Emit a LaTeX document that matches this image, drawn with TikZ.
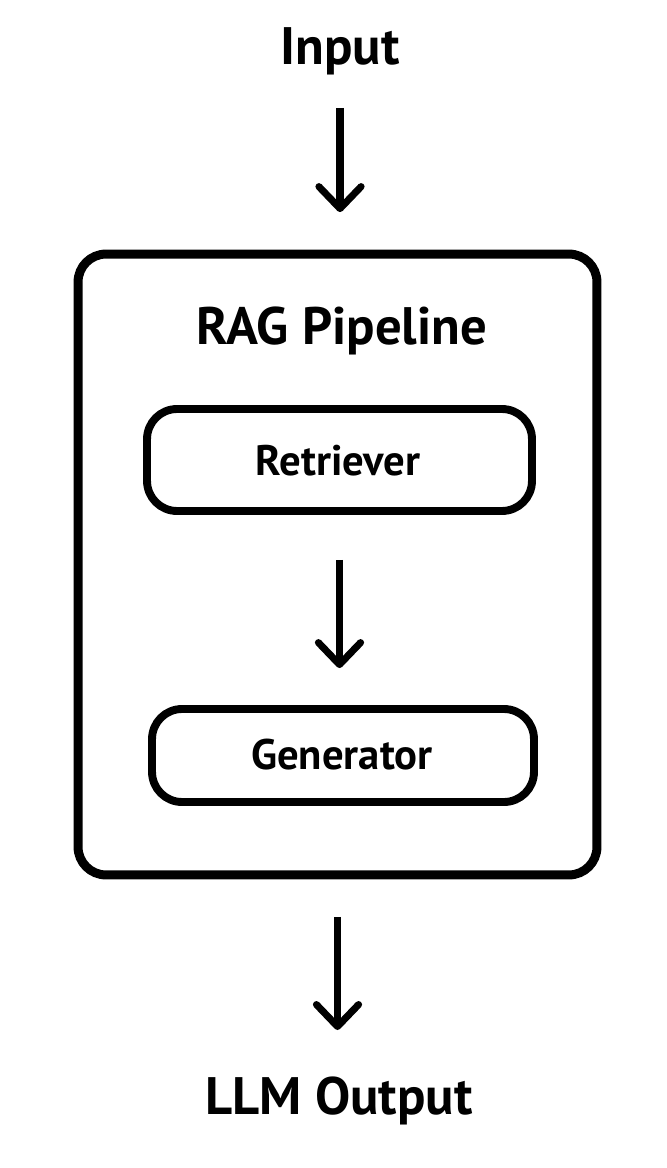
\documentclass[tikz,border=0pt]{standalone}
\usepackage{fontspec}
\setmainfont{PT Sans}
\usepackage{tikz}
\usetikzlibrary{positioning, arrows.meta}

\begin{document}
\begin{tikzpicture}[x=0.02cm,y=-0.02cm,
  bigbox/.style={draw,line width=5.1pt,rounded corners=0.56cm,minimum width=10.38cm,minimum height=12.42cm},
  stagebox/.style={draw,line width=4.5pt,rounded corners=0.6cm},
  bigtext/.style={anchor=base,font=\fontsize{30}{36}\selectfont\bfseries},
  stagetext/.style={anchor=base,font=\fontsize{24.3}{29}\selectfont\bfseries},
  flow/.style={line width=4pt,-{Straight Barb[length=12.5pt,width=24pt,round]}}]
\useasboundingbox (0,0) rectangle (666,1168);
\node[bigtext] (input) at (340,65) {Input};
\node[bigbox] (pipe) at (337.5,564.5) {};
\node[bigtext] (title) at (342,345) {RAG Pipeline};
\node[stagebox,minimum width=7.7cm,minimum height=2.04cm] (retr) at (339.5,460) {};
\node[stagetext] at (338,475) {Retriever};
\node[stagebox,minimum width=7.64cm,minimum height=1.86cm] (gen) at (343,755.5) {};
\node[stagetext] at (342,769) {Generator};
\node[bigtext] (output) at (339,1114) {LLM Output};
% arrows
\draw[flow,shorten <=0.86cm,shorten >=0.75cm] (input.base) -- (input.base |- pipe.north);
\draw[flow,shorten <=0.9cm,shorten >=0.74cm] (retr.south) -- (retr.south |- gen.north);
\draw[flow,shorten <=0.75cm,shorten >=1.68cm] (pipe.south) -- (pipe.south |- output.base);
\end{tikzpicture}
\end{document}
